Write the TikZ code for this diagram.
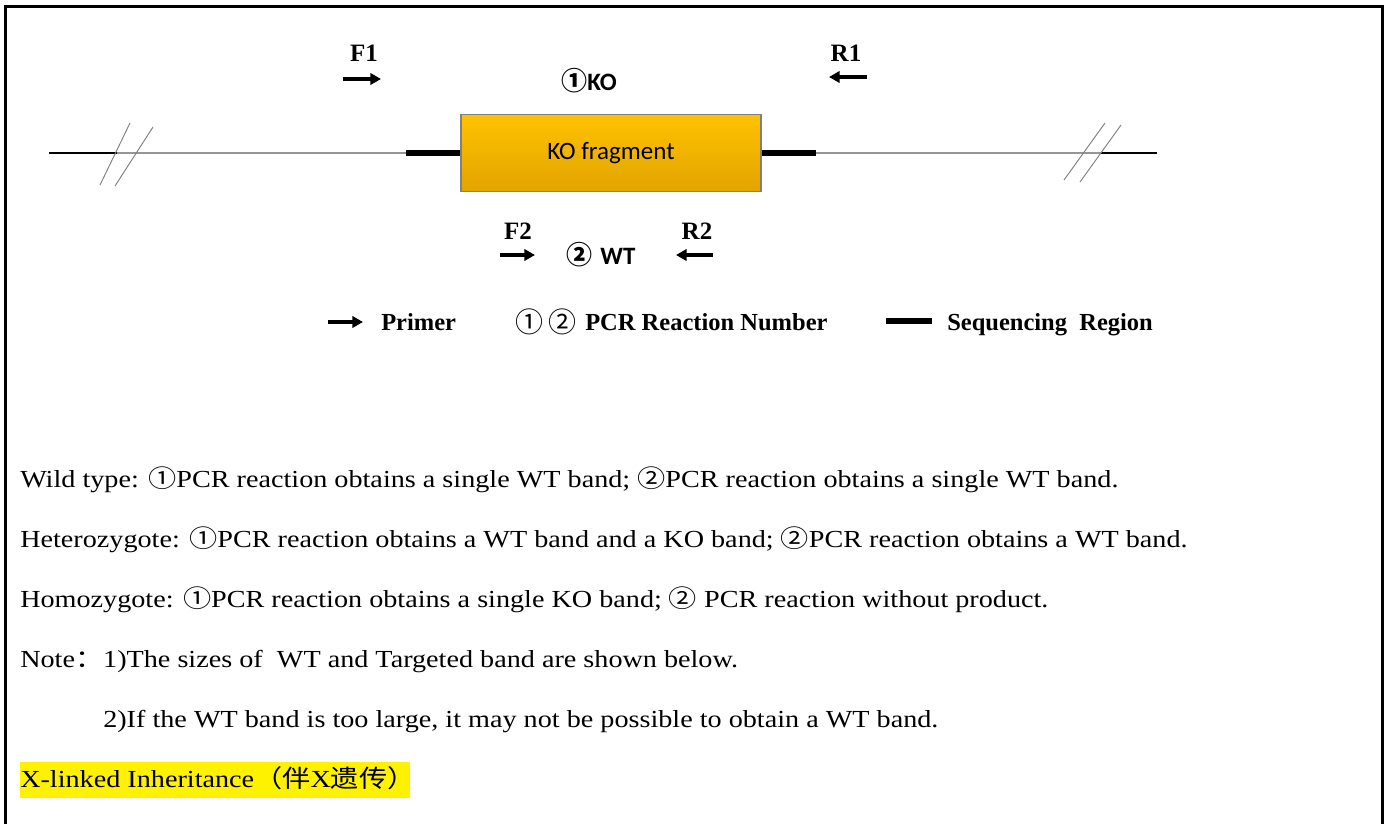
\documentclass[tikz,border=0pt]{standalone}
\usepackage{fontspec}
\setmainfont{Liberation Serif}
\newfontfamily\carl{Carlito}
\newfontfamily\cjk{Noto Sans CJK SC}
\usetikzlibrary{arrows.meta}
\newcommand\pxs[1]{\fontsize{\dimexpr #1pt*3/4\relax}{\dimexpr #1pt*9/10\relax}\selectfont}
\newcommand\cd[1]{{\cjk #1}}
\newcommand\wide[1]{\scalebox{1.15}[1]{#1}}
\definecolor{boxtop}{RGB}{255,194,0}
\definecolor{boxbot}{RGB}{226,164,0}
\definecolor{dnagray}{RGB}{150,150,150}
\tikzset{
  txt/.style={anchor=base west, inner sep=0pt, font=\pxs{24.5}},
  lbl/.style={inner sep=0pt, font=\pxs{25}\bfseries},
  leg/.style={anchor=base west, inner sep=0pt, font=\pxs{24.5}\bfseries},
  primer/.style={line width=2.4pt, -{Triangle[length=8pt,width=8.5pt]}},
  seqreg/.style={line width=3.9pt},
  dnaline/.style={line width=1.9pt, dnagray},
  endline/.style={line width=1pt, black},
  slash/.style={line width=0.7pt, gray},
  kobox/.style={draw=gray, line width=0.8pt, top color=boxtop, bottom color=boxbot,
     minimum width=225pt, minimum height=57.75pt, inner sep=0pt, font=\pxs{25}\carl},
}
\begin{document}
\begin{tikzpicture}[x=0.75pt,y=-0.75pt]
\useasboundingbox (0,0) rectangle (1388,824);
\fill[white] (0,0) rectangle (1388,824);
% frame
\draw[line width=2.25pt] (5,840) -- (5,7) -- (1382,7) -- (1382,840);

% DNA
\node[kobox] (ko) at (611,153) {KO fragment};
\coordinate (l0) at (49,153);
\coordinate (l1) at (117,153);
\coordinate (l2) at (406,153);
\coordinate (r2) at (816,153);
\coordinate (r1) at (1101,153);
\coordinate (r0) at (1157,153);
\draw[endline] (l0) -- (l1);
\draw[dnaline] (l1) -- (l2);
\draw[seqreg] (l2) -- (ko.west);
\draw[seqreg] (ko.east) -- (r2);
\draw[dnaline] (r2) -- (r1);
\draw[endline] (r1) -- (r0);
% break marks
\coordinate (s1a) at (100,185); \coordinate (s1b) at (130,123);
\coordinate (s2a) at (115,186); \coordinate (s2b) at (153,127);
\coordinate (s3a) at (1064,180); \coordinate (s3b) at (1105,123);
\coordinate (s4a) at (1080,182); \coordinate (s4b) at (1121,125);
\draw[slash] (s1a) -- (s1b);
\draw[slash] (s2a) -- (s2b);
\draw[slash] (s3a) -- (s3b);
\draw[slash] (s4a) -- (s4b);

% primers
\node[lbl] (F1) at (364,53) {F1};
\node[lbl] (R1) at (846,53) {R1};
\node[lbl] (F2) at (518,231) {F2};
\node[lbl] (R2) at (697,231) {R2};
\coordinate (f1s) at (343,79); \coordinate (f1e) at (381,79);
\coordinate (r1s) at (867,77); \coordinate (r1e) at (829,77);
\coordinate (f2s) at (500,255); \coordinate (f2e) at (535,255);
\coordinate (r2s) at (713,255); \coordinate (r2e) at (676,255);
\draw[primer] (f1s) -- (f1e);
\draw[primer] (r1s) -- (r1e);
\draw[primer] (f2s) -- (f2e);
\draw[primer] (r2s) -- (r2e);
\node[inner sep=0pt] (rx1) at (589,81) {{\pxs{26}\cjk\bfseries ①}{\pxs{25}\carl\bfseries KO}};
\node[inner sep=0pt] (rx2) at (601,255) {{\pxs{26}\cjk\bfseries ②}\hspace{6pt}{\pxs{25}\carl\bfseries WT}};

% legend
\coordinate (pa) at (328,322); \coordinate (pb) at (363,322);
\draw[primer] (pa) -- (pb);
\node[leg] (lp) at (381,330) {Primer};
\node[inner sep=0pt] (lc) at (546,322) {{\pxs{28}\cjk ①\,②}};
\node[leg] (lr) at (585,330) {PCR Reaction Number};
\coordinate (qa) at (886,321); \coordinate (qb) at (932,321);
\draw[seqreg] (qa) -- (qb);
\node[leg] (ls) at (947,330) {Sequencing\ \ Region};

% text
\node[txt] (t1) at (20,487) {\wide{Wild type: \cd{①}PCR reaction obtains a single WT band; \cd{②}PCR reaction obtains a single WT band.}};
\node[txt] (t2) at (20,547) {\wide{Heterozygote: \cd{①}PCR reaction obtains a WT band and a KO band; \cd{②}PCR reaction obtains a WT band.}};
\node[txt] (t3) at (20,607) {\wide{Homozygote: \cd{①}PCR reaction obtains a single KO band; \cd{②} PCR reaction without product.}};
\node[txt] (t4) at (20,667) {\wide{Note\cd{：}1)The sizes of\ \ WT and Targeted band are shown below.}};
\node[txt] (t5) at (103,727) {\wide{2)If the WT band is too large, it may not be possible to obtain a WT band.}};
\fill[yellow] (20,762) rectangle (410,798);
\node[txt] (t6) at (20,787) {\wide{X-linked Inheritance\cd{（伴}X\cd{遗传）}}};
\end{tikzpicture}
\end{document}
